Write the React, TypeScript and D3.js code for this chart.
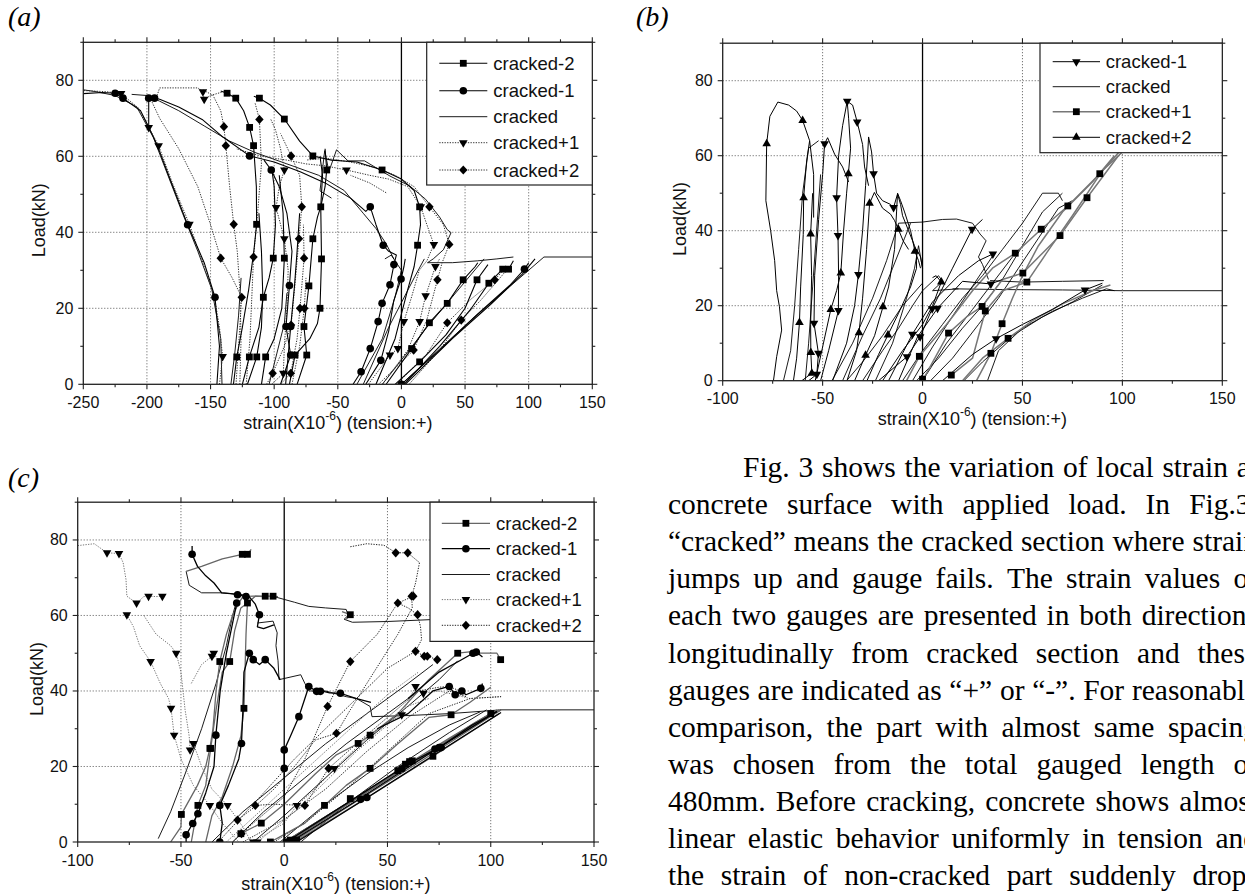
import React, { useMemo } from 'react';
import * as d3 from 'd3';

type P = [number, number];
interface Curve { pts: P[]; marks: P[] }

// ---------------- tick labels ----------------
const xTicksA = [-250, -200, -150, -100, -50, 0, 50, 100, 150];
const xTicksBC = [-100, -50, 0, 50, 100, 150];
const yTicks = [0, 20, 40, 60, 80];

// ---------------- panel (a) ----------------
const aCrackedM2: Curve[] = [
  { pts: [[-20,0],[-5,12],[5,25],[10,31],[12.7,36.6],[15,42],[14.3,46.7],[10,51],[0,54],[-15.2,56.4],[-35,58.5],[-55,59],[-69.6,60.1],[-80,64],[-92,69.8],[-103,73.5],[-111.6,75.3],[-116,75.8]], marks: [[12.7,36.6],[14.3,46.7],[-15.2,56.4],[-69.6,60.1],[-92,69.8],[-111.6,75.3]] },
  { pts: [[-132,0],[-129.4,7.2],[-125,15],[-120,25],[-116,35],[-113.8,42.1],[-114,52],[-116.2,62.8],[-119.3,67.6],[-124,72],[-130.2,75.3],[-137,76.6],[-142,77.2]], marks: [[-129.4,7.2],[-113.8,42.1],[-116.2,62.8],[-119.3,67.6],[-130.2,75.3],[-137,76.6]] },
  { pts: [[-125,0],[-119.5,7.2],[-112,15],[-108.5,22.9],[-104,28],[-100.7,33.2],[-99,42],[-100,52],[-102,57]], marks: [[-119.5,7.2],[-108.5,22.9],[-100.7,33.2]] },
  { pts: [[-121,0],[-113.7,7.2],[-110,15],[-109,24],[-110,35],[-112,45]], marks: [[-113.7,7.2]] },
  { pts: [[-110,0],[-106.7,7.2],[-100,12],[-94,20],[-92,33.2],[-93,45],[-96,55]], marks: [[-106.7,7.2],[-92,33.2]] },
  { pts: [[-82,0],[-74.4,7.7],[-76.6,15.2],[-72.7,25.9],[-69.6,38.3],[-66,44],[-63.4,46.7],[-60,52],[-58.7,56.4],[-60,62]], marks: [[-74.4,7.7],[-76.6,15.2],[-72.7,25.9],[-69.6,38.3],[-58.7,56.4]] },
  { pts: [[-88,0],[-83.6,7.7],[-72,12],[-66,16],[-64,20],[-62.8,33],[-63.4,46.7],[-62,55],[-64,60]], marks: [[-83.6,7.7],[-64,20],[-62.8,33],[-63.4,46.7]] },
  { pts: [[-12,0],[8,9.4],[22,16.2],[36,21.3],[48.5,27.5],[58,31],[60,32]], marks: [[8,9.4],[22,16.2],[36,21.3],[48.5,27.5]] },
  { pts: [[-5,0],[14.3,5.9],[35,13],[50,20],[59.4,27.5],[68,31.5]], marks: [[14.3,5.9],[59.4,27.5]] },
  { pts: [[2,0],[30,10],[55,20],[68.7,26.6],[79.6,30.3],[84.2,30.3],[88,32.5]], marks: [[68.7,26.6],[79.6,30.3],[84.2,30.3]] },
];
const aCrackedM1: Curve[] = [
  { pts: [[-145,0],[-143,10],[-146.5,22.9],[-155,32],[-168,42],[-183,55],[-192,63],[-199,68],[-205,72],[-218.8,75.3],[-225,76.6],[-235,76.8],[-250,76.5]], marks: [[-146.5,22.9],[-168,42],[-218.8,75.3],[-225,76.6]] },
  { pts: [[-38,0],[-31.7,3.3],[-24.5,9.4],[-18.3,16.5],[-15.2,21.3],[-9,26.2],[-5.9,31.5],[-4,34],[-10,35],[-14.3,36.6],[-20,42],[-24.5,46.7],[-28,45.5],[-40,49],[-60,53],[-80,56],[-100,58.5],[-119.3,60.1],[-140,65],[-156.6,69.7],[-175,73],[-190,75],[-194,75.3],[-198.6,75.3],[-198.6,68]], marks: [[-31.7,3.3],[-24.5,9.4],[-18.3,16.5],[-15.2,21.3],[-9,26.2],[-5.9,31.5],[-14.3,36.6],[-24.5,46.7],[-119.3,60.1],[-194,75.3],[-198.6,75.3]] },
  { pts: [[-28,0],[-16.2,6.3],[-10,14],[-6,22],[-0.3,27.7],[2,31],[3,33]], marks: [[-16.2,6.3],[-0.3,27.7]] },
  { pts: [[-95,0],[-87,7.7],[-90.7,15.2],[-88,26],[-86,35],[-90,45],[-96,52],[-102.3,56.4],[-108,59]], marks: [[-87,7.7],[-90.7,15.2],[-88,26],[-102.3,56.4]] },
  { pts: [[-91,0],[-87,15.2],[-84,26],[-82,35],[-80,45]], marks: [[-87,15.2]] },
  { pts: [[0,0],[30,9],[60,18.5],[85,26],[96.7,30.3],[100,32]], marks: [[0,0],[96.7,30.3]] },
  { pts: [[3,0],[40,12],[70,21],[95,29],[105,33]], marks: [] },
];
const aCracked: Curve[] = [
  { pts: [[0,0],[55,17],[112,33.5],[150,33.5]], marks: [] },
  { pts: [[-141,0],[-142,12],[-149,25],[-160,35],[-172,45],[-195,65],[-208,73],[-225,76],[-240,77],[-250,77.5]], marks: [] },
  { pts: [[-6,33],[-12,37],[-20,41],[-30,45],[-45,51],[-65,55],[-90,58],[-115,61],[-135,64],[-155,68],[-175,72],[-190,74.5],[-200,76],[-212,76.3]], marks: [] },
  { pts: [[-55,49],[-64,50.9],[-60.3,61.5],[-57,56],[-51,61.7],[-42,58.8],[-29,58.8],[-9,54.8],[6.5,52.2],[19,48.7],[30,44],[36,40.7],[39,39.9],[33,35.4],[25,33],[20.5,32],[40,32],[60,32.5],[75,33],[88,33.5]], marks: [] },
  { pts: [[-30,0],[-10,15],[10,28],[18,33]], marks: [] },
  { pts: [[-15,0],[20,15],[50,27],[65,33]], marks: [] },
  { pts: [[-35,0],[-15,12],[-5,23],[0,30],[-8,34],[-13,33]], marks: [] },
  { pts: [[-134,0],[-131,8],[-128,18],[-126,28]], marks: [] },
  { pts: [[-104,0],[-98,8],[-92,16],[-90,24]], marks: [] },
];
const aCrackedP1: Curve[] = [
  { pts: [[-143,0],[-140.5,7.3],[-143,15],[-147,23],[-157,33],[-166.6,42.1],[-180,53],[-190.8,62.8],[-198.6,67.6],[-206,72.5],[-220.3,76.5],[-232,77],[-250,77.3]], marks: [[-140.5,7.3],[-166.6,42.1],[-190.8,62.8],[-198.6,67.6],[-220.3,76.5]] },
  { pts: [[-102,0],[-92.8,2.9],[-92,10],[-90,20],[-89,30],[-92,38.3],[-98.5,46.5],[-96,52],[-92,56.4],[-95,62],[-99,67],[-103,70]], marks: [[-92.8,2.9],[-92,38.3],[-98.5,46.5],[-92,56.4]] },
  { pts: [[-26,0],[-9,7.7],[-2.8,9.4],[1.9,16.5],[8,23],[14,30],[20,32.5],[25.5,36.8],[20,42],[15.2,46.7],[5,52],[-10,54],[-25,55],[-43.2,56.4],[-60,57.5],[-75,58],[-90,59],[-110,60],[-130,62]], marks: [[-9,7.7],[-2.8,9.4],[1.9,16.5],[25.5,36.8],[15.2,46.7],[-43.2,56.4]] },
  { pts: [[-15,0],[5,9],[14.3,16.5],[19,23.3],[26.7,31],[30,33]], marks: [[14.3,16.5],[19,23.3],[26.7,31]] },
  { pts: [[-192,76],[-190,78],[-175,78],[-160,78],[-156,77],[-155,75],[-150,76],[-140,77]], marks: [[-156,77],[-155,75]] },
  { pts: [[-12,50.4],[-25,53],[-40,55]], marks: [] },
];
const aCrackedP2: Curve[] = [
  { pts: [[-130,0],[-128,10],[-125.5,22.9],[-133,28],[-142,33.2],[-150,42],[-160,52],[-175,62],[-190,70],[-197,75],[-193,76]], marks: [[-125.5,22.9],[-142,33.2]] },
  { pts: [[-127,0],[-126,12],[-127,25],[-129,35],[-131.8,42.1],[-135,52],[-138,62.8],[-139.5,67.8],[-142,72],[-148,76],[-156,77.5]], marks: [[-131.8,42.1],[-138,62.8],[-139.5,67.8]] },
  { pts: [[-122,0],[-119,12],[-116.2,33.5],[-113,45],[-110,58],[-111.6,69.7],[-115,74]], marks: [[-116.2,33.5],[-111.6,69.7]] },
  { pts: [[-106,0],[-101.2,2.9],[-92,10],[-86.7,15.6],[-84,25],[-80.5,38.3],[-78.3,46.7],[-80,55],[-86.7,60.1],[-95,66]], marks: [[-101.2,2.9],[-86.7,15.6],[-80.5,38.3],[-78.3,46.7],[-86.7,60.1]] },
  { pts: [[-95,0],[-87,2.9],[-82,12],[-79.7,20],[-76.5,33.2],[-77,42]], marks: [[-87,2.9],[-79.7,20],[-76.5,33.2]] },
  { pts: [[-86,0],[-80,10],[-76.3,20],[-75,28]], marks: [[-76.3,20]] },
  { pts: [[-18,0],[9.6,9],[20,17],[28.3,27.5],[32,32],[37.6,36.8],[33,42],[22,46.7],[10,52],[-5,55],[-20,57],[-40,58.5],[-60,59.5],[-75,59]], marks: [[9.6,9],[28.3,27.5],[37.6,36.8],[22,46.7]] },
  { pts: [[-4,0],[20,8],[36,16.2],[55,22.5],[73.3,27.5],[80,30]], marks: [[36,16.2],[73.3,27.5]] },
  { pts: [[6,0],[30,9],[47,16.9],[62,22],[75,27],[85,31]], marks: [[47,16.9]] },
];

// ---------------- panel (b) ----------------
const bCrackedM1: Curve[] = [
  { pts: [[-57,0],[-52.9,1.7],[-52.1,7.3],[-54.3,15.3],[-54,28],[-52,43],[-50,55],[-49,63.2],[-47.5,64.8],[-44,60.4],[-40,57],[-37,53]], marks: [[-52.9,1.7],[-52.1,7.3],[-54.3,15.3],[-49,63.2]] },
  { pts: [[-51,0],[-47,8],[-42.1,18.7],[-42,28],[-42.3,38.7],[-43,48.8],[-42,60],[-40,68],[-37.7,74.5],[-35,73.5],[-32.7,69],[-30,63],[-29,57],[-27,52]], marks: [[-42.1,18.7],[-42.3,38.7],[-43,48.8],[-37.7,74.5],[-32.7,69]] },
  { pts: [[-45,0],[-38,10],[-34,20],[-32.1,28.3],[-30,40],[-28.5,52],[-27.5,60],[-27,65],[-25.5,61],[-24.5,55.2],[-23,50],[-20,48],[-16,47],[-14.5,46.2],[-12.5,49.8],[-11,47],[-10,44],[-7,40],[-4,36],[-3,34]], marks: [[-32.1,28.3],[-24.5,55.2],[-14.5,46.2]] },
  { pts: [[-22,0],[-7.8,6.4],[-1.2,11.7],[4.8,19.2],[15,30],[24.8,40.4],[30,43]], marks: [[-7.8,6.4],[-1.2,11.7],[4.8,19.2],[24.8,40.4]] },
  { pts: [[-17,0],[-5.1,12.4],[5,21],[18,28],[28,32],[35.2,33.8]], marks: [[-5.1,12.4],[35.2,33.8]] },
  { pts: [[-12,0],[-2.5,11.7],[7.5,19.3],[20,26.5],[34.2,25.8],[40,27]], marks: [[7.5,19.3],[34.2,25.8]] },
  { pts: [[10,0],[25,7],[36.8,11.2],[50,15],[65,19],[81.3,24.2],[90,26]], marks: [[36.8,11.2],[81.3,24.2]] },
];
const bCracked: Curve[] = [
  { pts: [[15,24.5],[40,24.3],[70,24.2],[100,24],[150,24]], marks: [] },
  { pts: [[-12,42],[0,42.3],[10,43],[17,43.1],[25,42],[28.8,39.1],[31.8,37.3],[28,33],[30,31],[33,27]], marks: [] },
  { pts: [[32.5,0],[38,8],[50,14],[65,18.5],[80,22],[92,24.5],[96,24]], marks: [] },
  { pts: [[33.8,26.7],[50,26.3],[70,26.5],[90.7,26.7]], marks: [] },
  { pts: [[20.7,0],[30,5],[45,12],[60,17],[75,21],[90,25.5]], marks: [] },
  { pts: [[-30,0],[-20,8],[-12,14],[-5,20],[0,24],[8,28],[10,26.5],[5,24],[18,24.5]], marks: [] },
  { pts: [[-10,0],[0,8],[10,15],[20,22],[30,28],[40,35],[50,42],[60,50],[68,50],[70,48]], marks: [] },
  { pts: [[-3,0],[8,6],[20,14],[30,20],[40,27],[50,36],[60,45],[70,50]], marks: [] },
  { pts: [[4,0],[15,6],[28,15],[38,22],[48,30],[58,38],[68,46],[75,48]], marks: [] },
  { pts: [[-38,0],[-30,5],[-20,12],[-10,20],[0,26]], marks: [] },
  { pts: [[-69.6,0],[-66,8],[-64,20],[-62,35],[-60,50],[-57,62],[-52,64]], marks: [] },
  { pts: [[-58.7,0],[-57,10],[-55,25],[-53,40],[-51,55]], marks: [] },
  { pts: [[-23.6,0],[-15,10],[-8,22],[-4,30],[-2,36],[0,30]], marks: [] },
  { pts: [[-45.3,0],[-35,10],[-25,22],[-18,32],[-12,42]], marks: [] },
  { pts: [[-40,0],[-30,12],[-21,22],[-15,30],[-9,38],[-6,42]], marks: [] },
  { pts: [[0,0],[12,10],[25,19],[35,26],[45,33]], marks: [] },
  { pts: [[-5,0],[5,9],[16,18],[26,26],[36,34]], marks: [] },
];
const bCrackedP1: Curve[] = [
  { pts: [[-8,0],[-1.6,6.5],[12,15],[25,24],[35,30],[46.4,34],[59.4,40.4],[72.7,46.6],[88.7,55.2],[100,62]], marks: [[-1.6,6.5],[46.4,34],[59.4,40.4],[72.7,46.6],[88.7,55.2]] },
  { pts: [[0,0],[13,12.7],[22,17],[29.8,19.8],[40,27],[50.2,28.7],[60,34],[68.8,38.7],[82.3,48.8],[98,60]], marks: [[0,0.4],[13,12.7],[29.8,19.8],[50.2,28.7],[68.8,38.7],[82.3,48.8]] },
  { pts: [[14.4,1.5],[25,6],[31.4,18.6],[40,24],[52.2,26.3],[62,34],[75,44],[90,56],[100,61]], marks: [[14.4,1.5],[31.4,18.6],[52.2,26.3]] },
  { pts: [[27,0],[34.2,7.3],[39.8,15.2],[45,22],[50,28],[58,36],[70,45],[85,53],[96,60]], marks: [[34.2,7.3],[39.8,15.2]] },
  { pts: [[20,0],[30,6],[42.8,11.3],[55,16],[70,20.5],[85,24],[94,25.5]], marks: [[42.8,11.3]] },
];
const bCrackedP2: Curve[] = [
  { pts: [[-74.6,0],[-73,6.4],[-70.5,13.5],[-71.6,19.7],[-73,24],[-74,32],[-76,40],[-78.4,48],[-78,63.2],[-76.4,70.5],[-72.4,74.3],[-67,73.5],[-63,71.9],[-60,69.4],[-56.5,64],[-54.5,55],[-54.5,43.5]], marks: [[-78,63.2],[-60,69.4]] },
  { pts: [[-64.6,0],[-63,6],[-61.6,15.5],[-61,25],[-59.7,39],[-59.5,48.8],[-58,58.6],[-56.5,64]], marks: [[-61.6,15.5],[-59.5,48.8]] },
  { pts: [[-60.4,0],[-55.4,2],[-55.9,7.5],[-56,15],[-55.5,28],[-56,39.1],[-55,50]], marks: [[-55.4,2],[-55.9,7.5],[-56,39.1]] },
  { pts: [[-53.7,0],[-50,9],[-45.9,19],[-43,24],[-40.9,28.7],[-39.5,40],[-38,50],[-37.1,55.2],[-36,62],[-37,70],[-37.7,74.5]], marks: [[-45.9,19],[-40.9,28.7],[-37.1,55.2]] },
  { pts: [[-37.8,0],[-33,8],[-31.8,12.8],[-30,22],[-28,35],[-26.5,47.3],[-24.1,50.2],[-20,46],[-16,44.4],[-14,42.7],[-12.1,40.4],[-9.7,37.3],[-7,35]], marks: [[-31.8,12.8],[-26.5,47.3],[-12.1,40.4]] },
  { pts: [[-34,0],[-28.5,6.8],[-24,12],[-19.8,19.7],[-17,25],[-14,35],[-13,45],[-12.5,50],[-11,48],[-9,45],[-6,40],[-3.8,34.5],[-2,32],[-1,30]], marks: [[-28.5,6.8],[-19.8,19.7],[-3.8,34.5]] },
  { pts: [[-27.8,0],[-22,7],[-17.3,12.2],[-12,18],[-6,25],[-3,30],[-3,35.1],[-1,33],[0,30]], marks: [[-17.3,12.2]] },
  { pts: [[-20,0],[-10,8],[0,15],[5,20],[9.4,26.3],[6.8,28],[5,27.5]], marks: [[9.4,26.3]] },
];

// ---------------- panel (c) ----------------
const cCrackedM2: Curve[] = [
  { pts: [[0,0],[30,10],[60.7,21],[80,27.5],[100,34],[104,35]], marks: [[6,0.5],[32,11.5],[58.7,20.6],[60.7,21.3],[100,34]] },
  { pts: [[2,0],[32,10.5],[62,21],[92,31.5],[103,35]], marks: [[3,0.5],[62,21.5]] },
  { pts: [[4,0],[35,10.8],[65,21],[95,31.5],[105,35]], marks: [] },
  { pts: [[1,0],[33,10.9],[66,22.2],[101,34.2]], marks: [[55,18.9]] },
  { pts: [[5,0],[37,10.7],[70,22],[104,34]], marks: [[72,22.7]] },
  { pts: [[-6.7,0],[10,5],[19.5,9.7],[30,15],[41.6,19.5],[55,26],[70,33],[80.8,33.7],[90,37],[100,41]], marks: [[-6.7,0],[19.5,9.7],[41.6,19.5],[80.8,33.7]] },
  { pts: [[-21,2.2],[-11.1,5],[0,10],[15,18],[25,23],[35.8,26.1],[41.6,28.3],[55,34],[70,43],[84,50],[92,50.5],[95,50],[103,50],[104.8,48.3]], marks: [[-21,2.2],[-11.1,5],[35.8,26.1],[41.6,28.3],[84,50],[104.8,48.3]] },
  { pts: [[-55,0],[-50,4],[-49.8,7.3],[-42,15],[-38,20],[-36,24.8],[-34.5,30],[-33,40],[-31.2,47.8],[-28,55],[-25,60],[-22,63.3],[-20,65],[-15,65.1],[-9.2,65.1],[-5.4,65.1],[-3,65]], marks: [[-49.8,7.3],[-36,24.8],[-31.2,47.8],[-9.2,65.1],[-5.4,65.1]] },
  { pts: [[-45,0],[-41.8,9.7],[-38,15],[-35.6,24.8],[-33,35],[-30,45],[-26.4,47.8],[-24,56],[-21,62],[-17.8,63.3],[-14,65.1],[-10,65]], marks: [[-41.8,9.7],[-35.6,24.8],[-26.4,47.8],[-17.8,63.3]] },
  { pts: [[-38,0],[-35,7],[-30,12],[-25,20],[-21,28],[-19.5,35.4],[-19,45],[-18.5,55],[-17.8,63.3]], marks: [[-19.5,35.4]] },
  { pts: [[-47.5,71.7],[-40,73],[-30,75],[-20.3,76.2],[-17.8,76.2],[-16,77.5]], marks: [[-20.3,76.2],[-17.8,76.2]] },
  { pts: [[28,61],[32,60.2],[30,59]], marks: [[32,60.2]] },
];
const cCrackedM1: Curve[] = [
  { pts: [[1,0],[31,10.5],[61,21],[75,25],[91,31],[103,34.5]], marks: [[1,0],[5,0.5],[37,11.3],[75,25],[76,25]] },
  { pts: [[3,0],[34,10.6],[68,22.6],[103,34.6]], marks: [[57,19.4],[73,24.6]] },
  { pts: [[6,0],[38,11],[71,22.5],[105,34.3]], marks: [[40,11.8]] },
  { pts: [[-44.6,78.4],[-44.6,76.2],[-42,73],[-38,70.5],[-34,68.6],[-30.3,66],[-26,65.8],[-22.6,65.5],[-18.5,65],[-17,65]], marks: [[-44.6,76.2],[-22.6,65.5],[-18.5,65]] },
  { pts: [[-47.5,0],[-47.5,1.9],[-44.3,4.9],[-41.8,7.5],[-38,13],[-34,20],[-33.1,28.3],[-31,40],[-28,50],[-25,58],[-23,63.3]], marks: [[-47.5,1.9],[-44.3,4.9],[-41.8,7.5],[-33.1,28.3],[-23,63.3]] },
  { pts: [[-31.2,0],[-30,5],[-31.2,9.7],[-27,15],[-22,22],[-20.7,26.1],[-20,35],[-19.5,45],[-16.9,50],[-15,48.3],[-12,47],[-9.2,48.3],[-5,46],[-2,43]], marks: [[-31.2,0],[-31.2,9.7],[-20.7,26.1],[-16.9,50],[-15,48.3],[-9.2,48.3]] },
  { pts: [[-17,65],[-14,63],[-12,60.2],[-13,57],[-10,56.5],[-5,57.5]], marks: [[-12,60.2]] },
  { pts: [[0,0],[0,10],[0,19.5],[0,24.4],[3,28],[7.1,33.2],[10,38],[11.9,41.2],[15.7,39.9],[18,40],[22,39.5],[27.2,39.4],[35,38],[42,37]], marks: [[0,19.5],[0,24.4],[7.1,33.2],[11.9,41.2],[15.7,39.9],[17.5,39.9],[27.2,39.4]] },
  { pts: [[45,30],[60,34],[72,40],[79.9,41.2],[82.8,39],[86,40],[88,39],[95.2,40.7],[96,42]], marks: [[79.9,41.2],[82.8,39],[86,40],[95.2,40.7]] },
  { pts: [[60,38],[75,45],[85,48],[91.4,50],[93,50.3],[96,49]], marks: [[91.4,50],[93,50.3]] },
];
const cCracked: Curve[] = [
  { pts: [[0,0],[50,17],[105,35],[150,35]], marks: [] },
  { pts: [[33,58.2],[50,58.4],[71,58.9],[90,58.8],[105,59]], marks: [] },
  { pts: [[-5,65],[5,63.5],[11.9,62.4],[20,62],[30,61.6],[31,60],[29,59],[33,58.2]], marks: [] },
  { pts: [[-61,0.9],[-55,8],[-48,18],[-40,30],[-33,42],[-28,52],[-25,60],[-23,64]], marks: [] },
  { pts: [[-47.5,71.7],[-46,68],[-40,66],[-30,66],[-20,65.5]], marks: [] },
  { pts: [[-13,58],[-5.4,58.5],[-3.4,55.4],[-4,52],[-3,48],[-2.5,43],[8,44.3],[10,42],[12,40],[20,40],[30,38.5],[35,38],[41.6,35.9],[42.5,33.2],[60,33.5],[80,34],[105,35]], marks: [] },
  { pts: [[-15,0],[0,7],[20,17],[40,27],[60,36],[75,43],[84,48]], marks: [] },
  { pts: [[-35,0],[-20,8],[0,17],[20,26],[40,34],[60,42],[72,47]], marks: [] },
  { pts: [[-25,0],[-10,8],[10,17],[30,26],[50,34],[65,40]], marks: [] },
  { pts: [[-2,0],[20,10],[40,18],[60,25],[80,31],[95,34.5]], marks: [] },
  { pts: [[8,0],[30,10],[55,20],[80,29],[98,35]], marks: [] },
  { pts: [[2,0],[36,11.8],[70,23.6],[102,34.8]], marks: [] },
];
const cCrackedP1: Curve[] = [
  { pts: [[-100,78.5],[-92,79],[-85.8,76.6],[-80,76.4],[-78,74],[-76.6,69.5],[-76.2,65.1],[-71.5,63.3],[-68,65],[-65.7,65.1],[-62,65],[-59,65.1]], marks: [[-85.8,76.6],[-80,76.4],[-71.5,63.3],[-65.7,65.1],[-59,65.1]] },
  { pts: [[-76.2,60.2],[-73,57],[-70,52],[-64.7,47.8],[-60,42],[-56,38],[-54.8,35.4],[-53.3,28.3],[-50,22],[-44,15],[-36,9.7],[-30,5],[-22,0]], marks: [[-76.2,60.2],[-64.7,47.8],[-54.8,35.4],[-53.3,28.3],[-36,9.7]] },
  { pts: [[-68,60],[-62,55],[-55,52],[-52.3,50],[-50,45],[-48,35],[-46,28],[-45.6,24.4],[-44,26.1],[-40,20],[-35,14],[-27.4,9.7],[-20,4],[-16,0]], marks: [[-52.3,50],[-45.6,24.4],[-44,26.1],[-27.4,9.7]] },
  { pts: [[-45,42],[-40,47],[-35,49.2],[-34.1,50],[-33,49]], marks: [[-35,49.2],[-34.1,50]] },
  { pts: [[-15,0],[0,5],[6.1,9.7],[15,14],[24.3,19.5],[35,25],[45,30],[56.9,33.7],[63.6,41.2],[67.4,39.4],[75,40],[90,38],[105,38.5]], marks: [[-15,0],[6.1,9.7],[24.3,19.5],[56.9,33.7],[63.6,41.2],[67.4,39.4]] },
  { pts: [[-13,0],[5,8],[20,16],[35,24],[50,31],[60,36],[70,38]], marks: [[-13,0]] },
  { pts: [[-28,0],[-10,9],[10,19],[30,29],[50,39],[65,45]], marks: [] },
];
const cCrackedP2: Curve[] = [
  { pts: [[32,78.2],[40,79],[48.3,78.6],[54,76.6],[59.8,76.6],[65.5,74],[63.6,68.6],[61.7,65.1],[62.5,65.1],[58,64],[55,63.3],[60,62],[64.6,60.2],[66,57],[66.5,53.6],[63.6,50.5],[67.8,49.2],[69.3,49.2],[74.1,48.3]], marks: [[54,76.6],[59.8,76.6],[61.7,65.1],[62.5,65.1],[55,63.3],[64.6,60.2],[63.6,50.5],[67.8,49.2],[69.3,49.2],[74.1,48.3]] },
  { pts: [[-22.6,5.8],[-15,9],[-5,14],[5,20],[15,27],[25.3,28.8],[32,35],[40,42],[55,55],[62,62],[61.7,65.1]], marks: [[-22.6,5.8],[25.3,28.8]] },
  { pts: [[-25,0],[-15,5],[0,12],[10,22],[21,35.9],[32,47.8],[45,55],[55,63.3]], marks: [[21,35.9],[32,47.8]] },
  { pts: [[-14,9.7],[-5,10],[10,9.7],[21.5,19.5],[35,26],[50,33],[65,40],[75,41],[79.9,41.2],[85,40]], marks: [[-14,9.7],[10,9.7],[21.5,19.5]] },
  { pts: [[-20,0],[0,6],[20,14],[40,24],[60,33],[80,40],[88,38.5]], marks: [[-20.7,2.2]] },
  { pts: [[-5,0],[10,5],[30,14],[50,24],[70,34],[90,38],[105,38.5]], marks: [] },
  { pts: [[-32,0],[-15,10],[5,22],[20,30],[35,38],[50,46],[62,50]], marks: [] },
];

// ---------------- paragraph ----------------
const paragraphLines = [
  'Fig. 3 shows the variation of local strain at',
  'concrete surface with applied load. In Fig.3,',
  '\u201Ccracked\u201D means the cracked section where strain',
  'jumps up and gauge fails. The strain values of',
  'each two gauges are presented in both directions',
  'longitudinally from cracked section and these',
  'gauges are indicated as \u201C+\u201D or \u201C-\u201D. For reasonable',
  'comparison, the part with almost same spacing',
  'was chosen from the total gauged length of',
  '480mm. Before cracking, concrete shows almost',
  'linear elastic behavior uniformly in tension and',
  'the strain of non-cracked part suddenly drops',
];

// ---------------- rendering ----------------
type Kind = 'square' | 'circle' | 'tdown' | 'tup' | 'diamond' | 'none';
interface Series { name: string; kind: Kind; color: string; width: number; dash?: string; curves: Curve[] }

const SANS = "'Liberation Sans', Arial, sans-serif";
const SERIF = "'Liberation Serif', 'Times New Roman', serif";
const DOT = '1.3,1.3';

function Marker({ kind, x, y }: { kind: Kind; x: number; y: number }) {
  if (kind === 'none') return null;
  if (kind === 'square') return <rect x={x - 3.4} y={y - 3.4} width={6.8} height={6.8} fill="#000" />;
  if (kind === 'circle') return <circle cx={x} cy={y} r={3.8} fill="#000" />;
  if (kind === 'diamond') return <path d={`M${x},${y - 4.6}L${x + 4.2},${y}L${x},${y + 4.6}L${x - 4.2},${y}Z`} fill="#000" />;
  const s = 8.6, h = s * 0.866;
  if (kind === 'tup') return <path d={`M${x},${y - (2 * h) / 3}L${x + s / 2},${y + h / 3}L${x - s / 2},${y + h / 3}Z`} fill="#000" />;
  return <path d={`M${x},${y + (2 * h) / 3}L${x + s / 2},${y - h / 3}L${x - s / 2},${y - h / 3}Z`} fill="#000" />;
}

interface PanelProps {
  id: string;
  x0: number; x1: number; yb: number; yt: number;
  xDomain: [number, number];
  xTicks: number[];
  series: Series[];
  legendOrder: string[];
  legend: { x0: number; y0: number; y1: number; rows: number[]; lx0: number; lx1: number; tx: number };
  xLabelY: number;
  yLabelX: number;
}

function Panel(p: PanelProps) {
  const xs = d3.scaleLinear().domain(p.xDomain).range([p.x0, p.x1]);
  const ys = d3.scaleLinear().domain([0, 90]).range([p.yb, p.yt]);
  const line = d3.line<P>().x(d => xs(d[0])).y(d => ys(d[1]));
  const minorX = d3.range(p.xDomain[0], p.xDomain[1] + 0.1, 25);
  const minorY = d3.range(0, 90.1, 10);
  const gridX = p.xTicks.filter(v => v !== p.xDomain[0] && v !== p.xDomain[1] && v !== 0);
  const gridY = yTicks.filter(v => v !== 0);
  const cx = (p.x0 + p.x1) / 2;
  const cy = (p.yb + p.yt) / 2;
  const byName = new Map(p.series.map(s => [s.name, s]));
  return (
    <g>
      <defs>
        <clipPath id={`clip-${p.id}`}>
          <rect x={p.x0} y={p.yt} width={p.x1 - p.x0} height={p.yb - p.yt} />
        </clipPath>
      </defs>
      {gridX.map(v => (
        <line key={'gx' + v} x1={xs(v)} x2={xs(v)} y1={p.yt} y2={p.yb} stroke="#444" strokeWidth={0.9} strokeDasharray="1,2" />
      ))}
      {gridY.map(v => (
        <line key={'gy' + v} x1={p.x0} x2={p.x1} y1={ys(v)} y2={ys(v)} stroke="#444" strokeWidth={0.9} strokeDasharray="1,2" />
      ))}
      <line x1={xs(0)} x2={xs(0)} y1={p.yt} y2={p.yb} stroke="#000" strokeWidth={1.3} />
      <g clipPath={`url(#clip-${p.id})`}>
        {p.series.map(s =>
          s.curves.map((c, i) => (
            <path key={s.name + i} d={line(c.pts) || ''} fill="none" stroke={s.color} strokeWidth={s.width} strokeDasharray={s.dash} strokeLinejoin="round" />
          ))
        )}
        {p.series.map(s =>
          s.curves.map((c, i) => c.marks.map((m, j) => <Marker key={s.name + i + '-' + j} kind={s.kind} x={xs(m[0])} y={ys(m[1])} />))
        )}
      </g>
      <rect x={p.x0} y={p.yt} width={p.x1 - p.x0} height={p.yb - p.yt} fill="none" stroke="#222" strokeWidth={1.3} />
      {minorX.map(v => {
        const major = p.xTicks.includes(v);
        const L = major ? 5 : 3;
        return (
          <g key={'tx' + v}>
            <line x1={xs(v)} x2={xs(v)} y1={p.yb} y2={p.yb + L} stroke="#222" strokeWidth={1.1} />
            <line x1={xs(v)} x2={xs(v)} y1={p.yt} y2={p.yt - L} stroke="#222" strokeWidth={1.1} />
          </g>
        );
      })}
      {minorY.map(v => {
        const major = yTicks.includes(v);
        const L = major ? 5 : 3;
        return (
          <g key={'ty' + v}>
            <line x1={p.x0} x2={p.x0 - L} y1={ys(v)} y2={ys(v)} stroke="#222" strokeWidth={1.1} />
            <line x1={p.x1} x2={p.x1 + L} y1={ys(v)} y2={ys(v)} stroke="#222" strokeWidth={1.1} />
          </g>
        );
      })}
      {p.xTicks.map(v => (
        <text key={'lx' + v} x={xs(v)} y={p.yb + 18} fontFamily={SANS} fontSize={16} textAnchor="middle" dominantBaseline="central" fill="#111">
          {v}
        </text>
      ))}
      {yTicks.map(v => (
        <text key={'ly' + v} x={p.x0 - 10} y={ys(v)} fontFamily={SANS} fontSize={16} textAnchor="end" dominantBaseline="central" fill="#111">
          {v}
        </text>
      ))}
      <text x={cx} y={p.xLabelY} fontFamily={SANS} fontSize={18} textAnchor="middle" dominantBaseline="central" fill="#111">
        strain(X10<tspan fontSize={12} dy={-7}>-6</tspan><tspan dy={7}>) (tension:+)</tspan>
      </text>
      <text x={p.yLabelX} y={cy + 7} fontFamily={SANS} fontSize={18} textAnchor="middle" dominantBaseline="central" fill="#111" transform={`rotate(-90 ${p.yLabelX} ${cy + 7})`}>
        Load(kN)
      </text>
      <rect x={p.legend.x0} y={p.legend.y0} width={p.x1 - p.legend.x0} height={p.legend.y1 - p.legend.y0} fill="#fff" stroke="#222" strokeWidth={1.2} />
      {p.legendOrder.map((n, i) => {
        const s = byName.get(n)!;
        const yy = p.legend.rows[i];
        return (
          <g key={'lg' + n}>
            <line x1={p.legend.lx0} x2={p.legend.lx1} y1={yy} y2={yy} stroke={s.color} strokeWidth={s.width} strokeDasharray={s.dash} />
            <Marker kind={s.kind} x={(p.legend.lx0 + p.legend.lx1) / 2} y={yy} />
            <text x={p.legend.tx} y={yy} fontFamily={SANS} fontSize={18.5} dominantBaseline="central" fill="#111">
              {n}
            </text>
          </g>
        );
      })}
    </g>
  );
}

function Paragraph() {
  const placed = useMemo(() => {
    const fontSize = 29.5;
    const canvas = document.createElement('canvas');
    const ctx = canvas.getContext('2d');
    const right = 1258;
    return paragraphLines.map((ln, i) => {
      const x0 = i === 0 ? 743 : 668;
      const words = ln.split(' ');
      let widths = words.map(w => w.length * fontSize * 0.45);
      let spaceW = fontSize * 0.25;
      if (ctx) {
        ctx.font = `${fontSize}px 'Liberation Serif'`;
        widths = words.map(w => ctx.measureText(w).width);
        spaceW = ctx.measureText(' ').width;
      }
      const total = widths.reduce((a, b) => a + b, 0);
      let gap = (right - x0 - total) / Math.max(1, words.length - 1);
      if (gap < spaceW * 0.6) gap = spaceW * 0.6;
      let x = x0;
      const out: { w: string; x: number }[] = [];
      words.forEach((w, k) => {
        out.push({ w, x });
        x += widths[k] + gap;
      });
      return { y: 477 + i * 37.1, words: out };
    });
  }, []);
  return (
    <g>
      {placed.map((l, i) => (
        <g key={i}>
          {l.words.map((w, k) => (
            <text key={k} x={w.x} y={l.y} fontFamily={SERIF} fontSize={29.5} fill="#000">
              {w.w}
            </text>
          ))}
        </g>
      ))}
    </g>
  );
}

export default function App() {
  const seriesA: Series[] = [
    { name: 'cracked', kind: 'none', color: '#000', width: 0.9, curves: aCracked },
    { name: 'cracked+1', kind: 'tdown', color: '#333', width: 1, dash: DOT, curves: aCrackedP1 },
    { name: 'cracked+2', kind: 'diamond', color: '#333', width: 1, dash: DOT, curves: aCrackedP2 },
    { name: 'cracked-2', kind: 'square', color: '#000', width: 1.1, curves: aCrackedM2 },
    { name: 'cracked-1', kind: 'circle', color: '#000', width: 1.1, curves: aCrackedM1 },
  ];
  const seriesB: Series[] = [
    { name: 'cracked', kind: 'none', color: '#000', width: 0.9, curves: bCracked },
    { name: 'cracked+1', kind: 'square', color: '#777', width: 1.5, curves: bCrackedP1 },
    { name: 'cracked+2', kind: 'tup', color: '#000', width: 1, curves: bCrackedP2 },
    { name: 'cracked-1', kind: 'tdown', color: '#000', width: 1, curves: bCrackedM1 },
  ];
  const seriesC: Series[] = [
    { name: 'cracked', kind: 'none', color: '#000', width: 0.9, curves: cCracked },
    { name: 'cracked+1', kind: 'tdown', color: '#777', width: 1, dash: DOT, curves: cCrackedP1 },
    { name: 'cracked+2', kind: 'diamond', color: '#222', width: 1, dash: DOT, curves: cCrackedP2 },
    { name: 'cracked-2', kind: 'square', color: '#666', width: 1.3, curves: cCrackedM2 },
    { name: 'cracked-1', kind: 'circle', color: '#000', width: 1.3, curves: cCrackedM1 },
  ];
  return (
    <svg width={1245} height={896} style={{ position: 'absolute', left: 0, top: 0, background: '#fff' }} xmlns="http://www.w3.org/2000/svg">
      <rect x={0} y={0} width={1245} height={896} fill="#fff" />
      <text x={8} y={26} fontFamily={SERIF} fontStyle="italic" fontSize={28}>(a)</text>
      <text x={636} y={26} fontFamily={SERIF} fontStyle="italic" fontSize={28}>(b)</text>
      <text x={8} y={487} fontFamily={SERIF} fontStyle="italic" fontSize={28}>(c)</text>
      <Panel
        id="a" x0={83.3} x1={592.3} yb={384.3} yt={42.3} xDomain={[-250, 150]} xTicks={xTicksA}
        series={seriesA} legendOrder={['cracked-2', 'cracked-1', 'cracked', 'cracked+1', 'cracked+2']}
        legend={{ x0: 426.7, y0: 42.3, y1: 185, rows: [63.3, 90.7, 116.7, 142.7, 170], lx0: 439.3, lx1: 487.3, tx: 493.3 }}
        xLabelY={423} yLabelX={39}
      />
      <Panel
        id="b" x0={722.7} x1={1222.3} yb={380.7} yt={43.2} xDomain={[-100, 150]} xTicks={xTicksBC}
        series={seriesB} legendOrder={['cracked-1', 'cracked', 'cracked+1', 'cracked+2']}
        legend={{ x0: 1040, y0: 43.2, y1: 152.7, rows: [61.7, 86.7, 111.7, 137.3], lx0: 1052.7, lx1: 1100, tx: 1105.7 }}
        xLabelY={419} yLabelX={680}
      />
      <Panel
        id="c" x0={77.7} x1={594} yb={842} yt={502.2} xDomain={[-100, 150]} xTicks={xTicksBC}
        series={seriesC} legendOrder={['cracked-2', 'cracked-1', 'cracked', 'cracked+1', 'cracked+2']}
        legend={{ x0: 430, y0: 502.2, y1: 641.4, rows: [523.3, 548.7, 574.5, 599.6, 625.3], lx0: 441.8, lx1: 490, tx: 496 }}
        xLabelY={884} yLabelX={37}
      />
      <Paragraph />
    </svg>
  );
}
